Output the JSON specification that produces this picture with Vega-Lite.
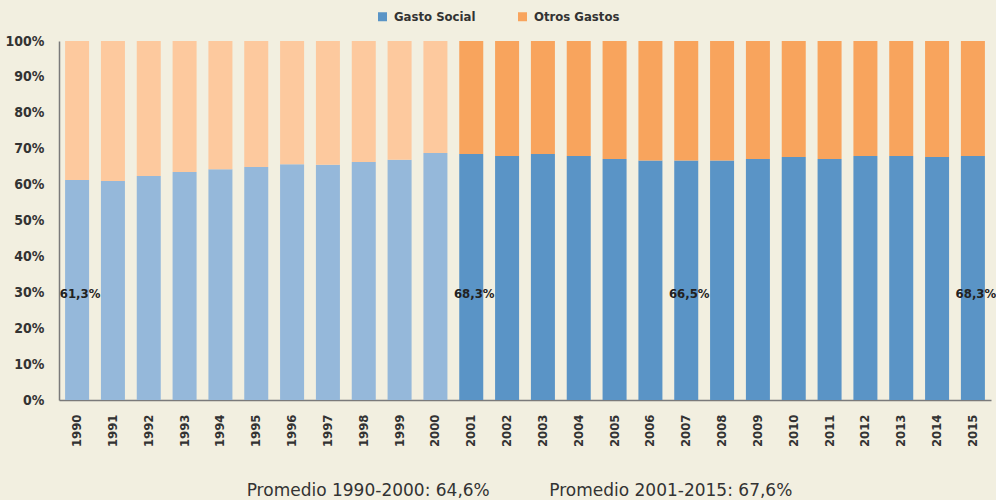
{
  "$schema": "https://vega.github.io/schema/vega-lite/v6.json",
  "width": 932,
  "height": 359,
  "autosize": {"type": "none"},
  "padding": {"left": 59, "top": 41, "right": 5, "bottom": 100},
  "background": "#f2efe0",
  "config": {"view": {"stroke": null}, "font": "DejaVu Sans Condensed"},
  "datasets": {
    "gastos": [
      {"anio": "1990", "tipo": "Gasto Social", "serie": "Gasto Social 1990-2000", "orden": 1, "valor": 61.3},
      {"anio": "1990", "tipo": "Otros Gastos", "serie": "Otros Gastos 1990-2000", "orden": 2, "valor": 38.7},
      {"anio": "1991", "tipo": "Gasto Social", "serie": "Gasto Social 1990-2000", "orden": 1, "valor": 61.0},
      {"anio": "1991", "tipo": "Otros Gastos", "serie": "Otros Gastos 1990-2000", "orden": 2, "valor": 39.0},
      {"anio": "1992", "tipo": "Gasto Social", "serie": "Gasto Social 1990-2000", "orden": 1, "valor": 62.4},
      {"anio": "1992", "tipo": "Otros Gastos", "serie": "Otros Gastos 1990-2000", "orden": 2, "valor": 37.6},
      {"anio": "1993", "tipo": "Gasto Social", "serie": "Gasto Social 1990-2000", "orden": 1, "valor": 63.5},
      {"anio": "1993", "tipo": "Otros Gastos", "serie": "Otros Gastos 1990-2000", "orden": 2, "valor": 36.5},
      {"anio": "1994", "tipo": "Gasto Social", "serie": "Gasto Social 1990-2000", "orden": 1, "valor": 64.3},
      {"anio": "1994", "tipo": "Otros Gastos", "serie": "Otros Gastos 1990-2000", "orden": 2, "valor": 35.7},
      {"anio": "1995", "tipo": "Gasto Social", "serie": "Gasto Social 1990-2000", "orden": 1, "valor": 64.9},
      {"anio": "1995", "tipo": "Otros Gastos", "serie": "Otros Gastos 1990-2000", "orden": 2, "valor": 35.1},
      {"anio": "1996", "tipo": "Gasto Social", "serie": "Gasto Social 1990-2000", "orden": 1, "valor": 65.7},
      {"anio": "1996", "tipo": "Otros Gastos", "serie": "Otros Gastos 1990-2000", "orden": 2, "valor": 34.3},
      {"anio": "1997", "tipo": "Gasto Social", "serie": "Gasto Social 1990-2000", "orden": 1, "valor": 65.5},
      {"anio": "1997", "tipo": "Otros Gastos", "serie": "Otros Gastos 1990-2000", "orden": 2, "valor": 34.5},
      {"anio": "1998", "tipo": "Gasto Social", "serie": "Gasto Social 1990-2000", "orden": 1, "valor": 66.3},
      {"anio": "1998", "tipo": "Otros Gastos", "serie": "Otros Gastos 1990-2000", "orden": 2, "valor": 33.7},
      {"anio": "1999", "tipo": "Gasto Social", "serie": "Gasto Social 1990-2000", "orden": 1, "valor": 66.9},
      {"anio": "1999", "tipo": "Otros Gastos", "serie": "Otros Gastos 1990-2000", "orden": 2, "valor": 33.1},
      {"anio": "2000", "tipo": "Gasto Social", "serie": "Gasto Social 1990-2000", "orden": 1, "valor": 68.8},
      {"anio": "2000", "tipo": "Otros Gastos", "serie": "Otros Gastos 1990-2000", "orden": 2, "valor": 31.2},
      {"anio": "2001", "tipo": "Gasto Social", "serie": "Gasto Social", "orden": 1, "valor": 68.5},
      {"anio": "2001", "tipo": "Otros Gastos", "serie": "Otros Gastos", "orden": 2, "valor": 31.5},
      {"anio": "2002", "tipo": "Gasto Social", "serie": "Gasto Social", "orden": 1, "valor": 68.0},
      {"anio": "2002", "tipo": "Otros Gastos", "serie": "Otros Gastos", "orden": 2, "valor": 32.0},
      {"anio": "2003", "tipo": "Gasto Social", "serie": "Gasto Social", "orden": 1, "valor": 68.5},
      {"anio": "2003", "tipo": "Otros Gastos", "serie": "Otros Gastos", "orden": 2, "valor": 31.5},
      {"anio": "2004", "tipo": "Gasto Social", "serie": "Gasto Social", "orden": 1, "valor": 68.0},
      {"anio": "2004", "tipo": "Otros Gastos", "serie": "Otros Gastos", "orden": 2, "valor": 32.0},
      {"anio": "2005", "tipo": "Gasto Social", "serie": "Gasto Social", "orden": 1, "valor": 67.1},
      {"anio": "2005", "tipo": "Otros Gastos", "serie": "Otros Gastos", "orden": 2, "valor": 32.9},
      {"anio": "2006", "tipo": "Gasto Social", "serie": "Gasto Social", "orden": 1, "valor": 66.7},
      {"anio": "2006", "tipo": "Otros Gastos", "serie": "Otros Gastos", "orden": 2, "valor": 33.3},
      {"anio": "2007", "tipo": "Gasto Social", "serie": "Gasto Social", "orden": 1, "valor": 66.7},
      {"anio": "2007", "tipo": "Otros Gastos", "serie": "Otros Gastos", "orden": 2, "valor": 33.3},
      {"anio": "2008", "tipo": "Gasto Social", "serie": "Gasto Social", "orden": 1, "valor": 66.7},
      {"anio": "2008", "tipo": "Otros Gastos", "serie": "Otros Gastos", "orden": 2, "valor": 33.3},
      {"anio": "2009", "tipo": "Gasto Social", "serie": "Gasto Social", "orden": 1, "valor": 67.1},
      {"anio": "2009", "tipo": "Otros Gastos", "serie": "Otros Gastos", "orden": 2, "valor": 32.9},
      {"anio": "2010", "tipo": "Gasto Social", "serie": "Gasto Social", "orden": 1, "valor": 67.7},
      {"anio": "2010", "tipo": "Otros Gastos", "serie": "Otros Gastos", "orden": 2, "valor": 32.3},
      {"anio": "2011", "tipo": "Gasto Social", "serie": "Gasto Social", "orden": 1, "valor": 67.1},
      {"anio": "2011", "tipo": "Otros Gastos", "serie": "Otros Gastos", "orden": 2, "valor": 32.9},
      {"anio": "2012", "tipo": "Gasto Social", "serie": "Gasto Social", "orden": 1, "valor": 68.0},
      {"anio": "2012", "tipo": "Otros Gastos", "serie": "Otros Gastos", "orden": 2, "valor": 32.0},
      {"anio": "2013", "tipo": "Gasto Social", "serie": "Gasto Social", "orden": 1, "valor": 68.0},
      {"anio": "2013", "tipo": "Otros Gastos", "serie": "Otros Gastos", "orden": 2, "valor": 32.0},
      {"anio": "2014", "tipo": "Gasto Social", "serie": "Gasto Social", "orden": 1, "valor": 67.7},
      {"anio": "2014", "tipo": "Otros Gastos", "serie": "Otros Gastos", "orden": 2, "valor": 32.3},
      {"anio": "2015", "tipo": "Gasto Social", "serie": "Gasto Social", "orden": 1, "valor": 68.0},
      {"anio": "2015", "tipo": "Otros Gastos", "serie": "Otros Gastos", "orden": 2, "valor": 32.0}
    ],
    "etiquetas": [
      {"anio": "1990", "etiqueta": "61,3%"},
      {"anio": "2001", "etiqueta": "68,3%"},
      {"anio": "2007", "etiqueta": "66,5%"},
      {"anio": "2015", "etiqueta": "68,3%"}
    ]
  },
  "encoding": {
    "x": {
      "field": "anio",
      "type": "ordinal",
      "scale": {"paddingInner": 0.33, "paddingOuter": 0.17},
      "axis": {
        "title": "Promedio 1990-2000: 64,6%\u00a0\u00a0\u00a0\u00a0\u00a0\u00a0\u00a0\u00a0\u00a0\u00a0\u00a0Promedio 2001-2015: 67,6%",
        "titleFont": "DejaVu Sans",
        "titleFontSize": 17,
        "titleFontWeight": "normal",
        "titleColor": "#333333",
        "titleX": 460,
        "titleY": 95,
        "titleAlign": "center",
        "titleBaseline": "alphabetic",
        "labelAngle": -90,
        "labelFont": "DejaVu Sans Condensed",
        "labelFontSize": 13,
        "labelFontWeight": "bold",
        "labelColor": "#333333",
        "labelPadding": 14,
        "labelOverlap": false,
        "ticks": false,
        "domainColor": "#7a7a7a",
        "domainWidth": 1.5
      }
    }
  },
  "layer": [
    {
      "data": {"name": "gastos"},
      "mark": {"type": "bar"},
      "encoding": {
        "y": {
          "field": "valor",
          "type": "quantitative",
          "stack": "zero",
          "scale": {"domain": [0, 100], "nice": false},
          "axis": {
            "title": null,
            "values": [0, 10, 20, 30, 40, 50, 60, 70, 80, 90, 100],
            "tickCount": 11,
            "labelExpr": "datum.value + '%'",
            "labelFont": "DejaVu Sans Condensed",
            "labelFontSize": 14,
            "labelFontWeight": "bold",
            "labelColor": "#333333",
            "labelPadding": 15,
            "labelOverlap": false,
            "ticks": false,
            "grid": false,
            "domainColor": "#7a7a7a",
            "domainWidth": 1.5
          }
        },
        "color": {
          "field": "serie",
          "type": "nominal",
          "scale": {
            "domain": ["Gasto Social", "Otros Gastos", "Gasto Social 1990-2000", "Otros Gastos 1990-2000"],
            "range": ["#5a94c6", "#f8a45d", "#95b8da", "#fdc99e"]
          },
          "legend": {
            "values": ["Gasto Social", "Otros Gastos"],
            "title": null,
            "orient": "none",
            "direction": "horizontal",
            "legendX": 317,
            "legendY": -31,
            "symbolType": "square",
            "symbolSize": 81,
            "symbolStrokeWidth": 0,
            "labelFont": "DejaVu Sans Condensed",
            "labelFontSize": 13,
            "labelFontWeight": "bold",
            "labelColor": "#333333",
            "labelOffset": 5,
            "columnPadding": 40
          }
        },
        "order": {"field": "orden", "type": "quantitative"}
      }
    },
    {
      "data": {"name": "etiquetas"},
      "mark": {
        "type": "text",
        "font": "DejaVu Sans Condensed",
        "fontSize": 13,
        "fontWeight": "bold",
        "color": "#222222",
        "align": "center",
        "baseline": "middle",
        "dx": 3
      },
      "encoding": {
        "y": {
          "datum": 29.5,
          "type": "quantitative",
          "axis": {
            "title": null,
            "values": [0, 10, 20, 30, 40, 50, 60, 70, 80, 90, 100],
            "tickCount": 11,
            "labelExpr": "datum.value + '%'",
            "labelFont": "DejaVu Sans Condensed",
            "labelFontSize": 14,
            "labelFontWeight": "bold",
            "labelColor": "#333333",
            "labelPadding": 15,
            "labelOverlap": false,
            "ticks": false,
            "grid": false,
            "domainColor": "#7a7a7a",
            "domainWidth": 1.5
          }
        },
        "text": {"field": "etiqueta"}
      }
    }
  ]
}
